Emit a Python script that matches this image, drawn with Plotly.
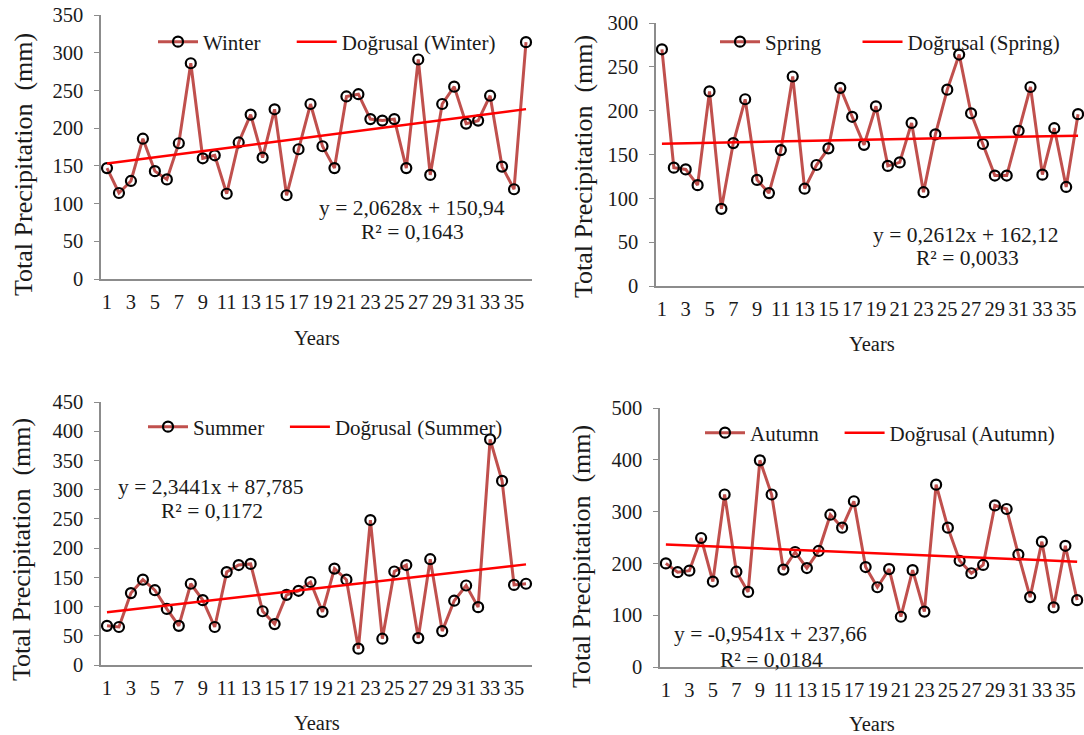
import plotly.graph_objects as go

years = list(range(1, 37))

winter = [147, 114, 130, 186, 143, 132, 180, 286, 160, 164, 113, 181, 218, 161, 225, 111, 172, 232,
          176, 147, 242, 245, 212, 210, 212, 147, 291, 138, 232, 255, 206, 210, 243, 149, 119, 314]
spring = [270, 135, 133, 115, 222, 88, 163, 213, 121, 106, 155, 239, 111, 138, 157, 226, 193, 161,
          205, 137, 141, 186, 107, 173, 224, 264, 197, 162, 126, 126, 177, 227, 127, 180, 113, 196]
summer = [67, 65, 123, 146, 128, 96, 67, 139, 111, 65, 159, 171, 173, 92, 70, 120, 127, 142,
          91, 165, 146, 28, 248, 45, 160, 171, 46, 181, 58, 110, 136, 99, 386, 315, 137, 139]
autumn = [200, 183, 186, 249, 165, 333, 184, 145, 399, 333, 188, 222, 191, 224, 294, 269, 320, 193,
          154, 189, 97, 187, 107, 352, 269, 205, 181, 197, 312, 305, 217, 135, 242, 115, 234, 129]

season_names = ["Winter", "Spring", "Summer", "Autumn"]
series = [winter, spring, summer, autumn]
slopes = [2.0628, 0.2612, 2.3441, -0.9541]
intercepts = [150.94, 162.12, 87.785, 237.66]
r2 = ["0,1643", "0,0033", "0,1172", "0,0184"]
eq_text = ["y = 2,0628x + 150,94", "y = 0,2612x + 162,12", "y = 2,3441x + 87,785", "y = -0,9541x + 237,66"]
y_max = [350, 300, 450, 500]
y_step = [50, 50, 50, 100]
xtick_vals = list(range(1, 37, 2))
y_title = "Total Precipitation\u00a0\u00a0(mm)"
x_title = "Years"

W, H = 1084, 735
FONT = "Liberation Serif"
TXT = "#1a1a1a"
AX = "#8c8c8c"

# pixel geometry of panels: (x0, x1, ytop, ybottom)
panels = [(101, 532, 15, 279), (656, 1086, 23, 286), (101, 532, 402, 665), (660, 1083, 408, 667)]
legend_pos = [(153, 42), (715, 42), (143, 427), (700, 433)]
legend_pad = [5, 6, 3, 3]
eq_pos = [((412, 208), (412, 232)), ((966, 235), (967, 258)), ((211, 487), (212, 511)), ((770, 634), (771, 660))]
ytitle_pos = [(23, 165), (583, 167), (21, 550), (581, 557)]
xtitle_pos = [(317, 338), (872, 344), (317, 723), (872, 724)]


def f(size):
    return dict(family=FONT, size=size, color=TXT)


fig = go.Figure()
layout = dict(width=W, height=H, margin=dict(l=0, r=0, t=0, b=0, autoexpand=False),
              paper_bgcolor="white", plot_bgcolor="white",
              font=f(20), annotations=[])

for i in range(4):
    n = "" if i == 0 else str(i + 1)
    x0, x1, yt, yb = panels[i]
    xa, ya = "xaxis" + n, "yaxis" + n
    lg = "legend" + n
    fig.add_trace(go.Scatter(
        x=years, y=series[i], mode="lines+markers",
        name=season_names[i] + "\u00a0" * legend_pad[i],
        line=dict(color="#C0504D", width=3),
        marker=dict(symbol="circle-open", size=10, color="black", line=dict(width=2.2, color="black")),
        xaxis="x" + n, yaxis="y" + n, legend=lg, cliponaxis=False))
    tx = [1, 36]
    ty = [slopes[i] * v + intercepts[i] for v in tx]
    fig.add_trace(go.Scatter(
        x=tx, y=ty, mode="lines", name="Doğrusal (%s)" % season_names[i],
        line=dict(color="#FF0000", width=2.5),
        xaxis="x" + n, yaxis="y" + n, legend=lg))
    layout[xa] = dict(domain=[x0 / W, min(x1 / W, 1.0)], anchor="y" + n, range=[0.5, 36.5],
                      tickmode="array", tickvals=xtick_vals, ticktext=[str(v) for v in xtick_vals],
                      showline=True, linecolor=AX, linewidth=1.5, ticks="", showgrid=False,
                      zeroline=False, tickfont=f(20.5), automargin=False, ticklabelstandoff=4)
    layout[ya] = dict(domain=[1 - yb / H, 1 - yt / H], anchor="x" + n, range=[0, y_max[i]],
                      dtick=y_step[i], tick0=0, showline=True, linecolor=AX, linewidth=1.5,
                      ticks="outside", ticklen=5, tickcolor=AX, showgrid=False, zeroline=False,
                      tickfont=f(20.5), automargin=False, ticklabelstandoff=7)
    lx, ly = legend_pos[i]
    layout[lg] = dict(orientation="h", x=lx / W, y=1 - ly / H, xanchor="left", yanchor="middle",
                      xref="paper", yref="paper", bgcolor="rgba(0,0,0,0)",
                      font=f(21), itemwidth=40)
    (ex, ey), (rx, ry) = eq_pos[i]
    ann = layout["annotations"]
    ann.append(dict(x=ex / W, y=1 - ey / H, xref="paper", yref="paper", text=eq_text[i],
                    showarrow=False, font=f(21.5), xanchor="center", yanchor="middle"))
    ann.append(dict(x=rx / W, y=1 - ry / H, xref="paper", yref="paper", text="R² = " + r2[i],
                    showarrow=False, font=f(21.5), xanchor="center", yanchor="middle"))
    tx_, ty_ = ytitle_pos[i]
    ann.append(dict(x=tx_ / W, y=1 - ty_ / H, xref="paper", yref="paper", text=y_title,
                    showarrow=False, font=f(26), textangle=-90, xanchor="center", yanchor="middle"))
    gx, gy = xtitle_pos[i]
    ann.append(dict(x=gx / W, y=1 - gy / H, xref="paper", yref="paper", text=x_title,
                    showarrow=False, font=f(20.5), xanchor="center", yanchor="middle"))

fig.update_layout(**layout)
fig.write_html("out.html")
